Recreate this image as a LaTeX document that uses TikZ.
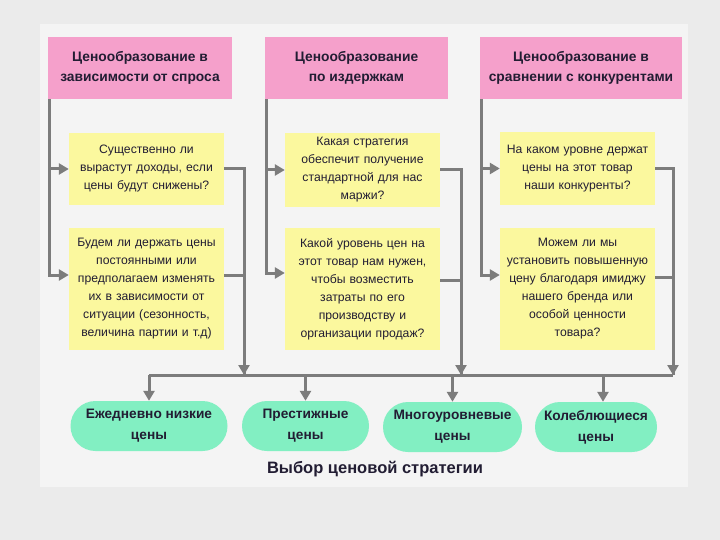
\documentclass[tikz,border=0pt]{standalone}
\usepackage{fontspec}
\setmainfont{Liberation Sans}
\usetikzlibrary{arrows.meta,positioning}
\definecolor{SlideBack}{HTML}{EBEBEB}
\definecolor{PanelBack}{HTML}{F4F4F4}
\definecolor{HeadPink}{HTML}{F5A0CB}
\definecolor{AskYellow}{HTML}{FBF89E}
\definecolor{PickMint}{HTML}{82EFC2}
\definecolor{LinkGray}{HTML}{7C7C7C}
\definecolor{TextInk}{HTML}{221D33}
\tikzset{
  every node/.style={text=TextInk},
  header/.style={fill=HeadPink, minimum height=62pt, inner sep=0pt, align=center, font=\fontsize{13.8}{20}\selectfont\bfseries},
  question/.style={fill=AskYellow, text width=155pt, inner sep=0pt, align=center, font=\fontsize{12.2}{18}\selectfont},
  choice/.style={fill=PickMint, rounded corners=25pt, minimum height=50pt, inner sep=0pt, align=center, font=\fontsize{13.7}{21}\selectfont\bfseries},
  link/.style={draw=LinkGray, line width=3pt},
  feed/.style={link, -{Triangle[length=10pt,width=11pt]}},
}
\begin{document}
\begin{tikzpicture}[x=1pt,y=-1pt]
  \useasboundingbox (0,0) rectangle (720,540);
  % Slide and panel
  \fill[SlideBack] (0,0) rectangle (720,540);
  \fill[PanelBack] (40,24) rectangle (688,487);

  % Headers
  \node[header, minimum width=184pt] (h1) at (140,68) {Ценообразование в\\зависимости от спроса};
  \node[header, minimum width=183pt] (h2) at (356.5,68) {Ценообразование\\по издержкам};
  \node[header, minimum width=202pt] (h3) at (581,68) {Ценообразование в\\сравнении с конкурентами};

  % Questions
  \node[question, minimum height=72pt] (q11) at (146.5,169) {Существенно ли\\вырастут доходы, если\\цены будут снижены?};
  \node[question, minimum height=122pt] (q12) at (146.5,289) {Будем ли держать цены\\постоянными или\\предполагаем изменять\\их в зависимости от\\ситуации (сезонность,\\величина партии и т.д)};
  \node[question, minimum height=74pt] (q21) at (362.5,170) {Какая стратегия\\обеспечит получение\\стандартной для нас\\маржи?};
  \node[question, minimum height=122pt] (q22) at (362.5,289) {Какой уровень цен на\\этот товар нам нужен,\\чтобы возместить\\затраты по его\\производству и\\организации продаж?};
  \node[question, minimum height=73pt] (q31) at (577.5,168.5) {На каком уровне держат\\цены на этот товар\\наши конкуренты?};
  \node[question, minimum height=122pt] (q32) at (577.5,289) {Можем ли мы\\установить повышенную\\цену благодаря имиджу\\нашего бренда или\\особой ценности\\товара?};

  % Price strategies
  \node[choice, minimum width=157pt] (o1) at (149,426) {Ежедневно низкие\\цены};
  \node[choice, minimum width=127pt] (o2) at (305.5,426) {Престижные\\цены};
  \node[choice, minimum width=139pt] (o3) at (452.5,427) {Многоуровневые\\цены};
  \node[choice, minimum width=122pt] (o4) at (596,427) {Колеблющиеся\\цены};
  \node[font=\fontsize{16.5}{19}\selectfont\bfseries] (title) at (375,469) {Выбор ценовой стратегии};

  % Drop points on the bus
  \coordinate (d1) at (244,375);
  \coordinate (d2) at (461,375);
  \coordinate (d3) at (673,375);

  % Headers to questions
  \draw[feed] ([xshift=1.5pt]h1.south west) |- (q11.west);
  \draw[feed] ([xshift=1.5pt]h1.south west) |- ([yshift=14pt]q12.west);
  \draw[feed] ([xshift=1.5pt]h2.south west) |- (q21.west);
  \draw[feed] ([xshift=1.5pt]h2.south west) |- ([yshift=16pt]q22.west);
  \draw[feed] ([xshift=1.5pt]h3.south west) |- (q31.west);
  \draw[feed] ([xshift=1.5pt]h3.south west) |- ([yshift=14pt]q32.west);

  % Questions to the bus
  \draw[link] (q11.east) -| (d1);
  \draw[feed] ([yshift=14pt]q12.east) -| (d1);
  \draw[link] (q21.east) -| (d2);
  \draw[feed] ([yshift=9pt]q22.east) -| (d2);
  \draw[link] (q31.east) -| (d3);
  \draw[feed] ([yshift=12pt]q32.east) -| (d3);

  % Bus to strategies
  \draw[link] (o1.north |- d1) -- (d3);
  \draw[feed] (o1.north |- d1) -- (o1);
  \draw[feed] (o2.north |- d1) -- (o2);
  \draw[feed] (o3.north |- d1) -- (o3);
  \draw[feed] ([xshift=7pt]o4.north |- d1) -- ([xshift=7pt]o4.north);
\end{tikzpicture}
\end{document}
